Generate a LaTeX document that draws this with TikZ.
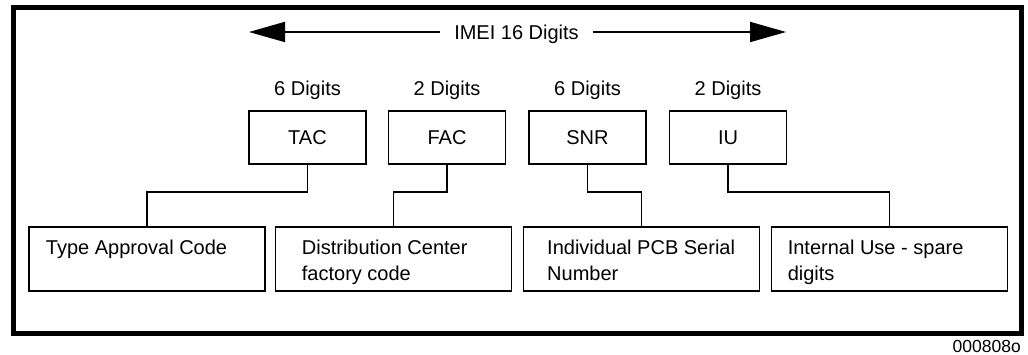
\documentclass[tikz,border=0pt]{standalone}
\usepackage{fontspec}
\setmainfont{Liberation Sans}
\usetikzlibrary{arrows.meta}
\begin{document}
\begin{tikzpicture}[x=1pt,y=-1pt,
  txt/.style={font=\fontsize{20}{24}\selectfont, inner sep=0pt},
  topbox/.style={draw, line width=1.8pt, minimum width=117pt, minimum height=53pt,
    inner sep=0pt, font=\fontsize{20}{24}\selectfont, text height=14.3pt, text depth=0pt},
  botbox/.style={draw, line width=1.8pt, minimum width=236pt, minimum height=64.5pt, inner sep=0pt},
  conn/.style={line width=1.8pt},
  bigarrow/.style={line width=1.8pt, -{Triangle[length=36pt,width=20pt]}}]
\useasboundingbox (0,0) rectangle (1028,355);
\fill[white] (0,0) rectangle (1028,355);
\draw[line width=5pt] (13.5,7.5) rectangle (1021.5,333.5);

% top arrow
\node[txt, anchor=base] (imei) at (516.5,39.3) {IMEI 16 Digits};
\coordinate (al) at (249,32);
\coordinate (ar) at (786,32);
\draw[bigarrow] ([xshift=-14pt]imei.west |- al) -- (al);
\draw[bigarrow] ([xshift=14pt]imei.east |- ar) -- (ar);

% digit labels
\node[txt, anchor=base] (d1) at (307.5,95.7) {6 Digits};
\node[txt, anchor=base] (d2) at (447,95.7) {2 Digits};
\node[txt, anchor=base] (d3) at (587.5,95.7) {6 Digits};
\node[txt, anchor=base] (d4) at (728,95.7) {2 Digits};

% top boxes
\node[topbox] (tac) at (307.5,137.5) {TAC};
\node[topbox] (fac) at (447,137.5) {FAC};
\node[topbox] (snr) at (587.5,137.5) {SNR};
\node[topbox] (iu)  at (728,137.5) {IU};

% bottom boxes
\node[botbox] (b1) at (147,258.9) {};
\node[botbox] (b2) at (393.5,258.9) {};
\node[botbox] (b3) at (641.5,258.9) {};
\node[botbox] (b4) at (889.5,258.9) {};

\node[txt, anchor=base west] (t1a) at (45.7,254.5) {Type Approval Code};
\node[txt, anchor=base west] (t2a) at (301.7,255) {Distribution Center};
\node[txt, anchor=base west] (t2b) at (301.7,281) {factory code};
\node[txt, anchor=base west] (t3a) at (547,255) {Individual PCB Serial};
\node[txt, anchor=base west] (t3b) at (547,281) {Number};
\node[txt, anchor=base west] (t4a) at (787.6,255) {Internal Use - spare};
\node[txt, anchor=base west] (t4b) at (787.6,281) {digits};

% connectors
\coordinate (lvl) at (0,192);
\draw[conn] (tac.south) -- (tac.south |- lvl) -| (b1.north);
\draw[conn] (fac.south) -- (fac.south |- lvl) -| (b2.north);
\draw[conn] (snr.south) -- (snr.south |- lvl) -| (b3.north);
\draw[conn] (iu.south) -- (iu.south |- lvl) -| (b4.north);

% figure id
\node[font=\fontsize{17.5}{20}\selectfont, inner sep=0pt, anchor=base east] (fid) at (1021,352.3) {000808o};
\end{tikzpicture}
\end{document}
